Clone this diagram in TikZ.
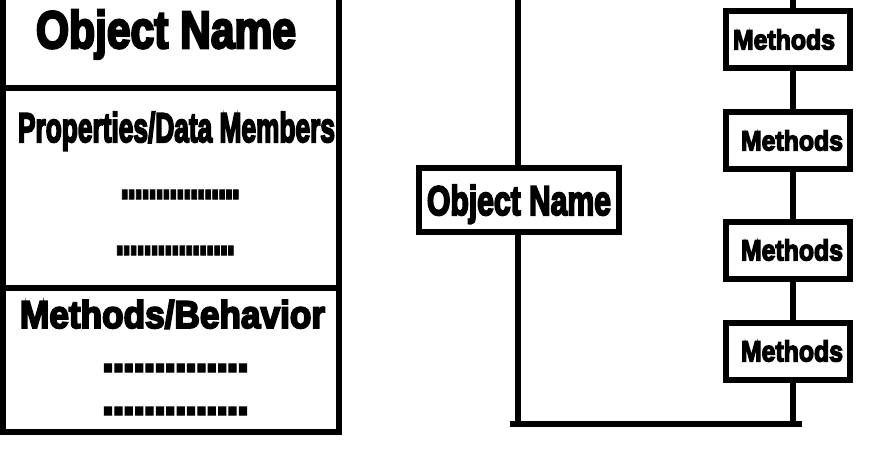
\documentclass[tikz,border=0pt]{standalone}
\usepackage{fontspec}
\setmainfont{Liberation Sans}
\newfontfamily\heavy[FakeBold=5]{Liberation Sans Bold}
\newfontfamily\dotfont[FakeBold=2]{Liberation Sans Bold}
\usetikzlibrary{positioning,calc}
\newcommand{\fittext}[3]{\resizebox{#1pt}{#2pt}{\heavy #3}}
\newcommand{\dotrow}[3]{\resizebox{#1pt}{#2pt}{\dotfont\foreach\i in {1,...,#3}{.\kern-0.075em}}}
\tikzset{
	every node/.style={inner sep=0pt},
	txt/.style={anchor=base west},
	mbox/.style={draw, minimum width=124pt, minimum height=57pt},
	captxt/.style={anchor=north west, font=\fontsize{23}{28}\selectfont},
}

\begin{document}
\begin{tikzpicture}[x=1pt, y=-1pt, line width=6pt]
	\clip (0,0) rectangle (875,460);
	% diagram (1)
	\draw (3,-10) rectangle (339,432);
	\draw (3,88) -- (339,88);
	\draw (3,288) -- (339,288);
	\node[txt] (name1) at (33,48) {\fittext{260}{38}{Object Name}};
	\node[txt] (props) at (15,142) {\fittext{317}{30}{Properties/Data Members}};
	\node[txt] (pd1) at (117,199) {\dotrow{118}{9}{17}};
	\node[txt] (pd2) at (112,255) {\dotrow{118}{9}{17}};
	\node[txt] (meths) at (17,328) {\fittext{305}{28}{Methods/Behavior}};
	\node[txt] (md1) at (98,372) {\dotrow{145}{8}{14}};
	\node[txt] (md2) at (98,415) {\dotrow{145}{8}{14}};
	\node[captxt] (c1) at (117,461) {Diagram (1)};
	% diagram (2)
	\node[draw, minimum width=200pt, minimum height=64pt, text depth=0pt] (o1) at (519,200) {\fittext{184}{30}{Object Name}};
	\node[mbox] (m1) at (788,39.5) {\hspace*{-8pt}\fittext{102}{20}{Methods}};
	\node[mbox] (m2) at (788,140.5) {\hspace*{8pt}\fittext{102}{20}{Methods}};
	\node[mbox] (m3) at (788,250) {\hspace*{8pt}\fittext{102}{21}{Methods}};
	\node[mbox] (m4) at (788,351) {\hspace*{8pt}\fittext{102}{21}{Methods}};
	\coordinate (top1) at (518,-10);
	\coordinate (top2) at (793,-10);
	\coordinate (bl) at (518,424);
	\coordinate (br) at (793,424);
	\draw (top1) -- (o1.north -| top1);
	\draw (o1.south -| top1) -- (bl);
	\draw (top2) -- (m1.north -| top2);
	\draw (m1.south -| top2) -- (m2.north -| top2);
	\draw (m2.south -| top2) -- (m3.north -| top2);
	\draw (m3.south -| top2) -- (m4.north -| top2);
	\draw (m4.south -| top2) -- (br);
	\draw[shorten <=-8pt, shorten >=-9pt] (bl) -- (br);
	\node[captxt] (c2) at (612,461) {Diagram (2)};
\end{tikzpicture}
\end{document}
